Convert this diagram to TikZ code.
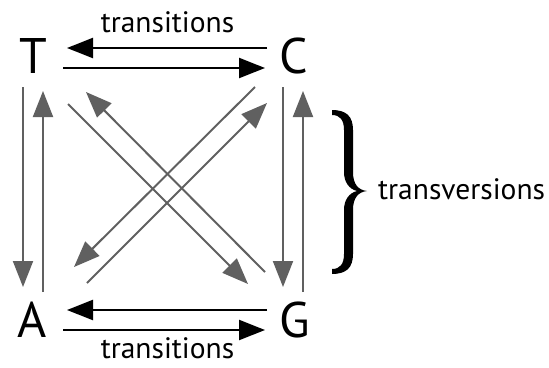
\documentclass[tikz,border=0pt]{standalone}
\usepackage{fontspec}
\setmainfont{PT Sans}
\usetikzlibrary{arrows.meta}
\definecolor{arrowgray}{RGB}{96,96,96}
\begin{document}
\begin{tikzpicture}[x=1pt,y=-1pt,
  base/.style={font=\fontsize{50}{50}\selectfont, inner sep=0pt, anchor=base},
  label/.style={font=\fontsize{29.5}{29.5}\selectfont, inner sep=0pt, anchor=base, text depth=0pt},
  blk/.style={draw=black, line width=2.4pt, -{Triangle[length=26pt,width=20pt]}},
  gry/.style={draw=arrowgray, line width=2pt, -{Triangle[length=26pt,width=20pt]}}]
\useasboundingbox (0,0) rectangle (549,367);

% nucleotide bases
\node[base] (T) at (33,73) {T};
\node[base] (C) at (294,73) {C};
\node[base] (A) at (32,337) {A};
\node[base] (G) at (295,337) {G};

% transitions (purine <-> purine, pyrimidine <-> pyrimidine)
\draw[blk] ([shift={(-27,-25)}]C.base) -- ([shift={(34,-25)}]T.base);
\draw[blk] ([shift={(30,-5)}]T.base) -- ([shift={(-29,-5)}]C.base);
\draw[blk] ([shift={(-28,-27)}]G.base) -- ([shift={(35,-27)}]A.base);
\draw[blk] ([shift={(31,-7)}]A.base) -- ([shift={(-30,-7)}]G.base);

% transversions, vertical pairs
\draw[gry] ([shift={(-10,14)}]T.base) -- ([shift={(-9,-50)}]A.base);
\draw[gry] ([shift={(11,-45)}]A.base) -- ([shift={(10,18)}]T.base);
\draw[gry] ([shift={(-11,14)}]C.base) -- ([shift={(-12,-50)}]G.base);
\draw[gry] ([shift={(8,-45)}]G.base) -- ([shift={(9,18)}]C.base);

% transversions, diagonal pairs
\draw[gry] ([shift={(35,31)}]T.base) -- ([shift={(-47,-53)}]G.base);
\draw[gry] ([shift={(-30,-65)}]G.base) -- ([shift={(53,19)}]T.base);
\draw[gry] ([shift={(-39,14)}]C.base) -- ([shift={(42,-70)}]A.base);
\draw[gry] ([shift={(55,-54)}]A.base) -- ([shift={(-27,30)}]C.base);

% labels
\node[label] (ttop) at (167.5,32) {transitions};
\node[label] (tbot) at (167.5,358.5) {transitions};
\node[label, anchor=base west] (tv) at (378,199) {transversions};

% curly brace
\fill[black] (332,110) .. controls (346,110) and (353,116) .. (353,130)
  -- (353,172) .. controls (353,184) and (358,190) .. (367,191)
  .. controls (358,192) and (353,198) .. (353,210)
  -- (353,254) .. controls (353,268) and (346,274) .. (332,274)
  -- (332,269) .. controls (340,269) and (344,264) .. (344,254)
  -- (344,210) .. controls (344,200) and (349,193) .. (357,191)
  .. controls (349,189) and (344,182) .. (344,172)
  -- (344,130) .. controls (344,120) and (340,115) .. (332,115) -- cycle;
\end{tikzpicture}
\end{document}
